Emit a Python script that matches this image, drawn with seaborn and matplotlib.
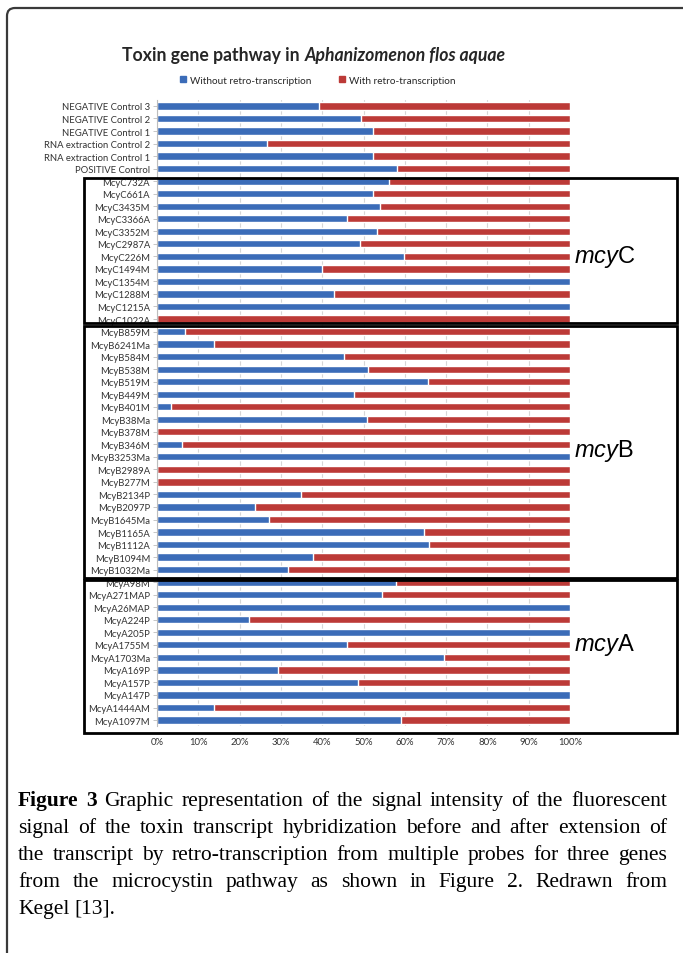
import numpy as np
import pandas as pd
import matplotlib
matplotlib.use("Agg")
import matplotlib.pyplot as plt
import seaborn as sns
from matplotlib.patches import Rectangle, FancyBboxPatch, Patch
from matplotlib.transforms import blended_transform_factory

# --- data (percent of signal without retro-transcription), top to bottom ---
control_labels = ["NEGATIVE Control 3", "NEGATIVE Control 2", "NEGATIVE Control 1",
                  "RNA extraction Control 2", "RNA extraction Control 1", "POSITIVE Control"]
control_without = [39.3, 49.4, 52.3, 26.6, 52.3, 58.1]

mcyc_labels = ["McyC732A", "McyC661A", "McyC3435M", "McyC3366A", "McyC3352M", "McyC2987A",
               "McyC226M", "McyC1494M", "McyC1354M", "McyC1288M", "McyC1215A", "McyC1022A"]
mcyc_without = [56.2, 52.3, 53.9, 46.0, 53.3, 49.1, 59.8, 40.0, 100, 42.8, 100, 0]

mcyb_labels = ["McyB859M", "McyB6241Ma", "McyB584M", "McyB538M", "McyB519M", "McyB449M",
               "McyB401M", "McyB38Ma", "McyB378M", "McyB346M", "McyB3253Ma", "McyB2989A",
               "McyB277M", "McyB2134P", "McyB2097P", "McyB1645Ma", "McyB1165A", "McyB1112A",
               "McyB1094M", "McyB1032Ma"]
mcyb_without = [6.8, 13.9, 45.2, 51.1, 65.6, 47.7, 3.5, 50.9, 0, 6.0, 100, 0,
                0, 34.9, 23.7, 27.2, 64.7, 65.8, 37.7, 31.6]

mcya_labels = ["McyA98M", "McyA271MAP", "McyA26MAP", "McyA224P", "McyA205P", "McyA1755M",
               "McyA1703Ma", "McyA169P", "McyA157P", "McyA147P", "McyA1444AM", "McyA1097M"]
mcya_without = [57.9, 54.4, 100, 22.3, 100, 46.0, 69.5, 29.3, 48.6, 100, 13.9, 59.1]

group_names = ["C", "B", "A"]
legend_labels = ["Without retro-transcription", "With retro-transcription"]
x_ticks = list(range(0, 101, 10))

labels = control_labels + mcyc_labels + mcyb_labels + mcya_labels
without_rt = control_without + mcyc_without + mcyb_without + mcya_without
df = pd.DataFrame({"probe": labels, "without": without_rt})
df["total"] = 100.0  # "with" fills the rest of the bar

BLUE = "#3b6cb8"
RED = "#bc3a37"
W, H = 683, 954

sns.set_theme(style="white")
plt.rcParams["font.family"] = ["Lato", "DejaVu Sans"]
plt.rcParams["mathtext.fontset"] = "custom"
plt.rcParams["mathtext.rm"] = "Liberation Sans"
plt.rcParams["mathtext.it"] = "Liberation Sans:italic"

fig = plt.figure(figsize=(W / 100, H / 100), dpi=100)
ax = fig.add_axes([157 / W, 1 - 727.3 / H, 413 / W, 626.6 / H])

# stacked bars: full red bar, blue part on top
sns.barplot(data=df, y="probe", x="total", color=RED, width=0.58, saturation=1,
            orient="h", ax=ax)
sns.barplot(data=df, y="probe", x="without", color=BLUE, width=0.58, saturation=1,
            orient="h", ax=ax)

ax.set_xlim(0, 100)
ax.set_ylim(len(labels) - 0.5, -0.5)
ax.set_xticks(x_ticks)
ax.set_xticklabels([f"{v}%" for v in x_ticks])
ax.set_xlabel("")
ax.set_ylabel("")
ax.set_axisbelow(True)
ax.xaxis.grid(True, color="#d6d6d6", lw=0.8)
ax.tick_params(axis="x", length=0, pad=8, labelsize=6.8, labelcolor="#333333")
ax.tick_params(axis="y", length=3, width=0.6, color="#bdbdbd", pad=2,
               labelsize=6.8, labelcolor="#333333", left=True)
for s in ["top", "right", "bottom"]:
    ax.spines[s].set_visible(False)
ax.spines["left"].set_color("#bdbdbd")
ax.spines["left"].set_linewidth(0.8)

# group boxes (x in figure fraction, y in row units)
trans = blended_transform_factory(fig.transFigure, ax.transData)
box_spans = [(5.75, 17.34), (17.53, 37.67), (37.8, 50.04)]
label_rows = [11.97, 27.45, 42.9]
for (top, bottom), name, row in zip(box_spans, group_names, label_rows):
    ax.add_patch(Rectangle((84 / W, top), (677 - 84) / W, bottom - top, transform=trans,
                           fill=False, ec="black", lw=2.0, clip_on=False, zorder=5))
    ax.text(574 / W, row, r"$\mathit{mcy}$" + name, transform=trans, ha="left",
            va="center", fontsize=17, family="Liberation Sans", color="black")

# legend
handles = [Patch(color=BLUE, label=legend_labels[0]), Patch(color=RED, label=legend_labels[1])]
fig.legend(handles=handles, loc="center", bbox_to_anchor=(318 / W, 1 - 81 / H), ncol=2,
           frameon=False, fontsize=7.2, handlelength=0.6, handleheight=0.6,
           columnspacing=2.8, handletextpad=0.4)

renderer = fig.canvas.get_renderer()

# title: bold part + bold italic species name, centred together
t1 = fig.text(0, 1 - 55 / H, "Toxin gene pathway in ", fontsize=12.7, weight="bold",
              va="center", ha="left")
t2 = fig.text(0, 1 - 55 / H, "Aphanizomenon flos aquae", fontsize=12.7, weight="bold",
              style="italic", va="center", ha="left")
w1 = t1.get_window_extent(renderer).width
w2 = t2.get_window_extent(renderer).width
x0 = 314 - (w1 + w2) / 2
t1.set_x(x0 / W)
t2.set_x((x0 + w1) / W)

# caption, justified word by word
caption_lines = [
    [("Figure", "bold"), ("3", "bold"), ("Graphic", "normal"), ("representation", "normal"),
     ("of", "normal"), ("the", "normal"), ("signal", "normal"), ("intensity", "normal"),
     ("of", "normal"), ("the", "normal"), ("fluorescent", "normal")],
    "signal of the toxin transcript hybridization before and after extension of",
    "the transcript by retro-transcription from multiple probes for three genes",
    "from the microcystin pathway as shown in Figure 2. Redrawn from",
    "Kegel [13].",
]
baselines = [806, 833, 860, 887, 914]
cap_x0, cap_x1 = 18, 667
for i, (line, yb) in enumerate(zip(caption_lines, baselines)):
    words = line if isinstance(line, list) else [(w, "normal") for w in line.split()]
    texts = [fig.text(0, 1 - yb / H, w, fontsize=15.5, family="Liberation Serif",
                      weight=wt, va="baseline", ha="left", color="black")
             for w, wt in words]
    widths = [t.get_window_extent(renderer).width for t in texts]
    if i < len(caption_lines) - 1:
        gap = (cap_x1 - cap_x0 - sum(widths)) / (len(texts) - 1)
    else:
        gap = 5
    x = cap_x0
    for t, w in zip(texts, widths):
        t.set_x(x / W)
        x += w + gap

# outer rounded frame (runs off the right and bottom edge)
frame = FancyBboxPatch((0.07, -0.5), 7.5, 9.95, boxstyle="round,pad=0,rounding_size=0.08",
                       transform=fig.dpi_scale_trans, fill=False, ec="#3a3a3a", lw=1.6)
fig.add_artist(frame)

fig.savefig("out.png", dpi=100)
